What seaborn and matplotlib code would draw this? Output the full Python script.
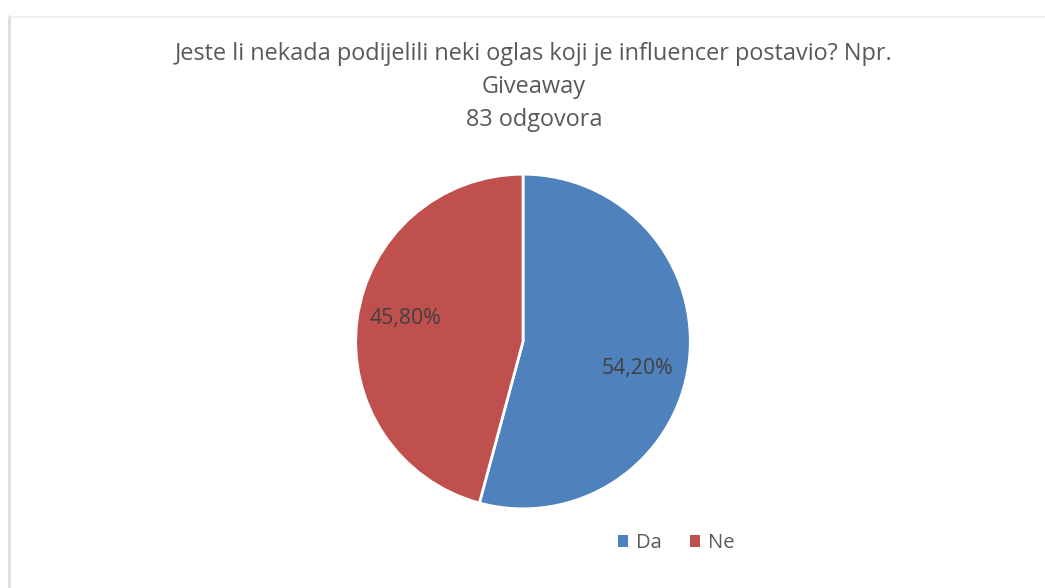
import matplotlib
matplotlib.use("Agg")
import matplotlib.pyplot as plt
from matplotlib.lines import Line2D
from matplotlib.patches import Patch
import seaborn as sns

categories = ["Da", "Ne"]
values = [54.20, 45.80]
colors = ["#4F81BD", "#C0504D"]
title_lines = ["Jeste li nekada podijelili neki oglas koji je influencer postavio? Npr.",
               "Giveaway", "83 odgovora"]

sns.set_theme(style="white")
plt.rcParams['font.family'] = ['Open Sans', 'DejaVu Sans']

W, H = 1045, 588
fig = plt.figure(figsize=(W / 100, H / 100), dpi=100)
fig.patch.set_facecolor("white")

# border of chart area
fig.add_artist(Line2D([8.5 / W, 8.5 / W], [0, 1 - 16 / H], color="#D9D9D9", lw=1.8,
                      transform=fig.transFigure))
fig.add_artist(Line2D([8.5 / W, 1], [1 - 16.5 / H, 1 - 16.5 / H], color="#EDEDED", lw=1.2,
                      transform=fig.transFigure))

cx, cy, r = 523, 341.5, 169
ax = fig.add_axes([(cx - r) / W, (H - cy - r) / H, 2 * r / W, 2 * r / H])
wedges, texts, autotexts = ax.pie(
    values, colors=colors, startangle=90, counterclock=False,
    wedgeprops=dict(edgecolor="white", linewidth=2),
    autopct=lambda p: f"{p:.2f}%".replace(".", ","), pctdistance=0.76,
    textprops=dict(color="#404040", fontsize=15.3))
autotexts[0].set_position((0.683, -0.16))
autotexts[1].set_position((-0.70, 0.135))
ax.set_xlim(-1.01, 1.01)
ax.set_ylim(-1.01, 1.01)
ax.set_aspect("equal")
ax.axis("off")

for i, line in enumerate(title_lines):
    fig.text(534 / W, 1 - (54 + 33 * i) / H, line, ha="center", va="center",
             fontsize=16.9, color="#595959")

handles = [Patch(facecolor=c, edgecolor="none") for c in colors]
fig.legend(handles, categories, loc="center", bbox_to_anchor=(676 / W, 1 - 543 / H),
           ncol=2, frameon=False, fontsize=14.5, handlelength=0.5, handleheight=0.5,
           handletextpad=0.4, columnspacing=1.4, labelcolor="#595959")

fig.savefig("out.png", dpi=100, facecolor="white")
